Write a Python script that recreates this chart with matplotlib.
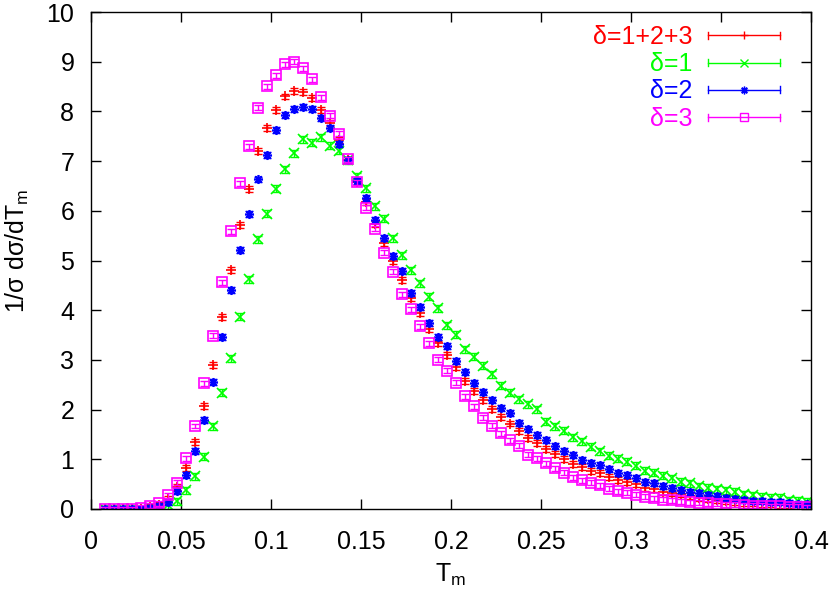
import numpy as np
import matplotlib
matplotlib.use("Agg")
import matplotlib.pyplot as plt
from matplotlib.legend_handler import HandlerBase
from matplotlib.lines import Line2D

plt.rcParams['font.family'] = ['Liberation Sans', 'DejaVu Sans']
plt.rcParams['mathtext.default'] = 'regular'

# bin centres of T_m
tm = 0.0075 + 0.005 * np.arange(79)

# delta = 1+2+3
d123 = [0.00, 0.00, 0.00, 0.00, 0.01, 0.04, 0.09, 0.20, 0.45, 0.82,
        1.35, 2.07, 2.90, 3.87, 4.81, 5.71, 6.44, 7.20, 7.67, 8.02,
        8.30, 8.41, 8.39, 8.26, 8.03, 7.76, 7.42, 7.03, 6.58, 6.18,
        5.73, 5.36, 4.98, 4.60, 4.25, 3.95, 3.62, 3.33, 3.09, 2.85,
        2.58, 2.38, 2.19, 2.01, 1.85, 1.72, 1.57, 1.42, 1.33, 1.21,
        1.11, 1.01, 0.91, 0.84, 0.76, 0.72, 0.64, 0.58, 0.54, 0.50,
        0.43, 0.40, 0.35, 0.33, 0.30, 0.26, 0.23, 0.20, 0.18, 0.16,
        0.15, 0.13, 0.12, 0.11, 0.10, 0.09, 0.08, 0.07, 0.06]
# delta = 1
d1 = [0.00, 0.00, 0.00, 0.00, 0.00, 0.01, 0.03, 0.08, 0.16, 0.38,
      0.66, 1.05, 1.66, 2.34, 3.03, 3.87, 4.62, 5.43, 5.94, 6.44,
      6.84, 7.16, 7.44, 7.37, 7.48, 7.31, 7.21, 7.02, 6.70, 6.45,
      6.09, 5.84, 5.45, 5.11, 4.80, 4.54, 4.27, 4.04, 3.70, 3.51,
      3.21, 3.06, 2.88, 2.71, 2.48, 2.34, 2.21, 2.11, 2.01, 1.76,
      1.66, 1.57, 1.44, 1.36, 1.25, 1.16, 1.07, 1.01, 0.95, 0.87,
      0.77, 0.73, 0.67, 0.62, 0.55, 0.52, 0.46, 0.43, 0.40, 0.38,
      0.35, 0.30, 0.28, 0.25, 0.23, 0.23, 0.18, 0.17, 0.15]
# delta = 2
d2 = [0.00, 0.00, 0.00, 0.00, 0.01, 0.03, 0.06, 0.15, 0.37, 0.68,
      1.17, 1.80, 2.56, 3.47, 4.40, 5.22, 5.94, 6.63, 7.12, 7.62,
      7.92, 8.05, 8.08, 8.05, 7.86, 7.66, 7.34, 7.02, 6.60, 6.26,
      5.82, 5.45, 5.09, 4.78, 4.34, 4.07, 3.75, 3.47, 3.27, 2.98,
      2.76, 2.54, 2.36, 2.19, 2.04, 1.93, 1.74, 1.60, 1.48, 1.39,
      1.27, 1.17, 1.09, 0.99, 0.92, 0.89, 0.80, 0.73, 0.68, 0.62,
      0.55, 0.52, 0.46, 0.42, 0.38, 0.35, 0.32, 0.28, 0.26, 0.23,
      0.20, 0.18, 0.17, 0.16, 0.15, 0.14, 0.12, 0.11, 0.10]
# delta = 3
d3 = [0.00, 0.00, 0.00, 0.00, 0.03, 0.07, 0.12, 0.28, 0.53, 1.02,
      1.67, 2.53, 3.49, 4.56, 5.59, 6.55, 7.30, 8.07, 8.51, 8.73,
      8.95, 9.00, 8.87, 8.65, 8.28, 7.91, 7.55, 7.04, 6.57, 6.06,
      5.64, 5.16, 4.77, 4.32, 4.02, 3.68, 3.33, 3.00, 2.78, 2.54,
      2.27, 2.07, 1.84, 1.68, 1.52, 1.38, 1.27, 1.09, 1.02, 0.92,
      0.82, 0.73, 0.64, 0.58, 0.53, 0.48, 0.41, 0.36, 0.33, 0.29,
      0.25, 0.22, 0.19, 0.18, 0.16, 0.14, 0.13, 0.12, 0.11, 0.10,
      0.09, 0.08, 0.07, 0.07, 0.06, 0.06, 0.05, 0.05, 0.04]

# rough size of the error bars
err = [0.06, 0.07, 0.06, 0.05]

labels = ['δ=1+2+3', 'δ=1', 'δ=2', 'δ=3']
colors = ['#ff0000', '#00ff00', '#0000ff', '#ff00ff']
markers = ['+', 'x', (8, 2, 0), 's']
series = [d123, d1, d2, d3]


class ErrKey(HandlerBase):
    # gnuplot style key: horizontal bar with end ticks and the point in the middle
    def create_artists(self, legend, orig, xd, yd, w, h, fs, trans):
        y = (h - yd) / 2
        x0, x1 = -xd, -xd + w
        c = 0.14 * fs
        col = orig.get_color()
        arts = [Line2D([x0, x1], [y, y], color=col, lw=1),
                Line2D([x0, x0], [y - c, y + c], color=col, lw=1),
                Line2D([x1, x1], [y - c, y + c], color=col, lw=1),
                Line2D([(x0 + x1) / 2], [y], color=col, marker=orig.get_marker(),
                       ms=orig.get_markersize() * 0.85, mfc='none', mew=1)]
        for a in arts:
            a.set_transform(trans)
        return arts


fig = plt.figure(figsize=(8.3, 5.89), dpi=100)
ax = fig.add_axes([91 / 830, 80 / 589, 720 / 830, 497 / 589])

handles = []
for ys, e, lab, col, mk in zip(series, err, labels, colors, markers):
    ax.errorbar(tm, ys, yerr=e, fmt='none', ecolor=col, elinewidth=1,
                capsize=3, capthick=1)
    ln, = ax.plot(tm, ys, ls='none', marker=mk, color=col, ms=6.5,
                  mfc='none', mew=1.2, label=lab)
    handles.append(ln)

ax.set_xlim(0, 0.4)
ax.set_ylim(0, 10)
ax.set_xticks(np.arange(0, 0.41, 0.05))
ax.set_xticklabels(['0', '0.05', '0.1', '0.15', '0.2', '0.25', '0.3', '0.35', '0.4'])
ax.set_yticks(range(0, 11))
ax.tick_params(direction='in', length=7, width=1, top=True, right=True,
               labelsize=18)
ax.tick_params(axis='x', pad=15)
ax.tick_params(axis='y', pad=12)
for s in ax.spines.values():
    s.set_linewidth(1)

ax.set_xlabel('T$_m$', fontsize=18, labelpad=6)
ax.set_ylabel('1/σ dσ/dT$_m$', fontsize=18, labelpad=12)
ax.yaxis.set_label_coords(-0.084, 0.52)

leg = ax.legend(handles=handles, loc='upper right',
                bbox_to_anchor=((780 - 91) / 720, (509 - 25) / 497),
                frameon=False, markerfirst=False, fontsize=18,
                handlelength=2.9, handletextpad=0.6, labelspacing=0.13,
                borderpad=0, borderaxespad=0,
                handler_map={Line2D: ErrKey()})
for t, col in zip(leg.get_texts(), colors):
    t.set_color(col)

fig.savefig('out.png', dpi=100)
